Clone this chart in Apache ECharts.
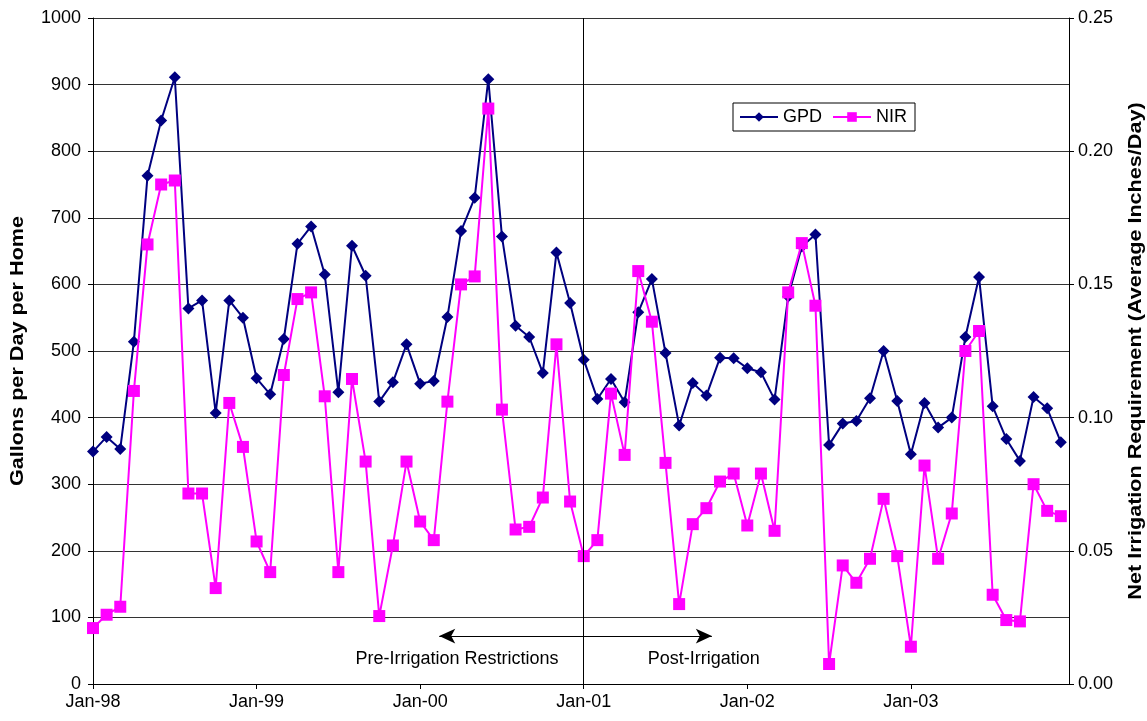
<!DOCTYPE html>
<html>
<head>
<meta charset="utf-8">
<script src="https://cdn.jsdelivr.net/npm/echarts@6/dist/echarts.min.js"></script>
<style>
  html, body { margin: 0; padding: 0; background: #fff; }
  #chart { width: 1147px; height: 721px; }
</style>
</head>
<body>
<div id="chart"></div>
<script>
// Monthly series, Jan-1998 (index 0) through Dec-2003 (index 71)
const xTickLabels = ['Jan-98', 'Jan-99', 'Jan-00', 'Jan-01', 'Jan-02', 'Jan-03'];

// Gallons per day per home
const gpd = [
  349, 371, 353, 514, 763, 846, 911, 564, 576, 407, 576, 550,
  459, 435, 518, 661, 687, 615, 438, 658, 613, 424, 453, 510,
  451, 455, 551, 680, 730, 908, 672, 538, 521, 467, 648, 572,
  487, 428, 458, 423, 558, 608, 497, 388, 452, 433, 490, 489,
  474, 468, 427, 582, 657, 675, 359, 391, 395, 429, 500, 425,
  345, 422, 385, 400, 521, 611, 417, 368, 335, 431, 414, 363
];

// Net irrigation requirement, average inches per day
const nir = [
  0.021, 0.026, 0.029, 0.110, 0.165, 0.1875, 0.189, 0.0715, 0.0715, 0.036, 0.1055, 0.089,
  0.0535, 0.042, 0.116, 0.1445, 0.147, 0.108, 0.042, 0.1145, 0.0835, 0.0255, 0.052, 0.0835,
  0.061, 0.054, 0.106, 0.150, 0.153, 0.216, 0.103, 0.058, 0.059, 0.070, 0.1275, 0.0685,
  0.048, 0.054, 0.109, 0.086, 0.155, 0.136, 0.083, 0.030, 0.060, 0.066, 0.076, 0.079,
  0.0595, 0.079, 0.0575, 0.147, 0.1655, 0.142, 0.0075, 0.0445, 0.038, 0.047, 0.0695, 0.048,
  0.014, 0.082, 0.047, 0.064, 0.125, 0.1325, 0.0335, 0.024, 0.0235, 0.075, 0.065, 0.063
];

// Axis titles
const leftTitle = 'Gallons per Day per Home';
const rightTitle = 'Net Irrigation Requirement (Average Inches/Day)';

// Restriction start (Jan-01) and the span of the annotation arrow
const restrictionMonth = 36;
const arrowSpan = [25.4, 45.4];
const arrowLevel = 72;
const periodLabels = [
  { text: 'Pre-Irrigation Restrictions', x: 26.7 },
  { text: 'Post-Irrigation', x: 44.8 }
];

const FONT = '"Liberation Sans", Arial, sans-serif';
const chart = echarts.init(document.getElementById('chart'));

const pairs = arr => arr.map((v, i) => [i, v]);

chart.setOption({
  animation: false,
  backgroundColor: '#fff',
  textStyle: { fontFamily: FONT, color: '#000' },
  grid: { left: 93, right: 78, top: 18, bottom: 37, containLabel: false },
  legend: {
    left: 733, top: 103,
    padding: [5, 8, 5, 6],
    borderColor: '#000', borderWidth: 1,
    itemWidth: 38, itemHeight: 12, itemGap: 10,
    textStyle: { fontFamily: FONT, fontSize: 18, color: '#000' },
    data: ['GPD', 'NIR']
  },
  xAxis: {
    type: 'value', min: 0, max: 71.6, interval: 12,
    axisLine: { show: true, lineStyle: { color: '#000', width: 1 } },
    axisTick: { show: true, length: 5, lineStyle: { color: '#000' } },
    axisLabel: {
      margin: 9, fontSize: 18, color: '#000', fontFamily: FONT,
      showMaxLabel: false,
      formatter: v => (v % 12 === 0 ? xTickLabels[v / 12] || '' : '')
    },
    splitLine: { show: false }
  },
  yAxis: [
    {
      type: 'value', min: 0, max: 1000, interval: 100,
      axisLine: { show: true, lineStyle: { color: '#000', width: 1 } },
      axisTick: { show: true, length: 5, lineStyle: { color: '#000' } },
      axisLabel: { margin: 12, fontSize: 18, color: '#000', fontFamily: FONT, formatter: v => String(v) },
      splitLine: { show: true, lineStyle: { color: '#333', width: 1 } }
    },
    {
      type: 'value', min: 0, max: 0.25, interval: 0.05,
      axisLine: { show: true, lineStyle: { color: '#000', width: 1 } },
      axisTick: { show: true, length: 5, lineStyle: { color: '#000' } },
      axisLabel: { margin: 9, fontSize: 18, color: '#000', fontFamily: FONT, formatter: v => v.toFixed(2) },
      splitLine: { show: false }
    }
  ],
  series: [
    {
      name: 'restriction-marker', type: 'line', data: [], silent: true,
      markLine: {
        silent: true, symbol: 'none', animation: false,
        label: { show: false },
        lineStyle: { color: '#000', width: 1, type: 'solid' },
        data: [{ xAxis: restrictionMonth }]
      }
    },
    {
      name: 'GPD', type: 'line', yAxisIndex: 0,
      data: pairs(gpd),
      symbol: 'diamond', symbolSize: 12, z: 3,
      lineStyle: { color: '#000080', width: 2 },
      itemStyle: { color: '#000080' },
      markLine: {
        silent: true, symbol: ['arrow', 'arrow'], symbolSize: [11, 16], animation: false,
        label: { show: false },
        lineStyle: { color: '#000', width: 1, type: 'solid' },
        data: [[{ coord: [arrowSpan[0], arrowLevel] }, { coord: [arrowSpan[1], arrowLevel] }]]
      }
    },
    {
      name: 'NIR', type: 'line', yAxisIndex: 1,
      data: pairs(nir),
      symbol: 'rect', symbolSize: 12, z: 4,
      lineStyle: { color: '#ff00ff', width: 2 },
      itemStyle: { color: '#ff00ff' }
    }
  ]
});

// Period captions under the arrow, and the two rotated axis titles
const captionY = chart.convertToPixel({ yAxisIndex: 0 }, 37);
const midY = chart.convertToPixel({ yAxisIndex: 0 }, 500);
const xLeft = chart.convertToPixel({ xAxisIndex: 0 }, 0);
const xRight = chart.convertToPixel({ xAxisIndex: 0 }, 71.6);

const titleText = (text, x) => ({
  type: 'text', x: x, y: midY, rotation: Math.PI / 2, scaleX: 1.2,
  style: {
    text: text, fill: '#000', font: 'bold 18px ' + FONT,
    align: 'center', verticalAlign: 'middle'
  },
  silent: true
});

chart.setOption({
  graphic: periodLabels.map(p => ({
    type: 'text',
    x: chart.convertToPixel({ xAxisIndex: 0 }, p.x),
    y: captionY,
    style: {
      text: p.text, fill: '#000', font: '18px ' + FONT,
      align: 'center', verticalAlign: 'middle'
    },
    silent: true
  })).concat([
    titleText(leftTitle, xLeft - 75),
    titleText(rightTitle, xRight + 67)
  ])
});
</script>
</body>
</html>
